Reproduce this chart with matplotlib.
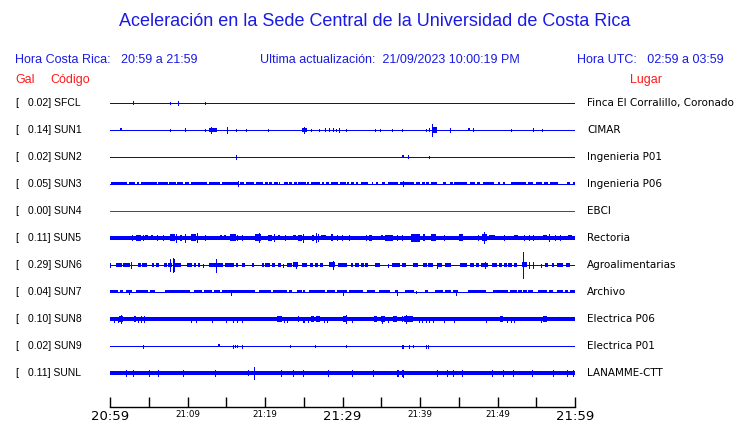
import matplotlib
matplotlib.use("Agg")
import matplotlib.pyplot as plt
from matplotlib.transforms import blended_transform_factory

W, H, DPI = 740, 423, 100

# ---------------- data ----------------
codes = ["SFCL", "SUN1", "SUN2", "SUN3", "SUN4", "SUN5", "SUN6", "SUN7", "SUN8", "SUN9", "SUNL"]
peaks = [0.02, 0.14, 0.02, 0.05, 0.00, 0.11, 0.29, 0.04, 0.10, 0.02, 0.11]
places = ["Finca El Corralillo, Coronado", "CIMAR", "Ingenieria P01", "Ingenieria P06", "EBCI",
          "Rectoria", "Agroalimentarias", "Archivo", "Electrica P06", "Electrica P01", "LANAMME-CTT"]
# quiet-level half amplitude of each trace (pixel-like units)
base_amp = [0.5, 0.5, 0.5, 0.5, 0.5, 2.0, 0.5, 0.5, 1.9, 0.5, 1.9]

t_start, t_end = 0, 60  # minutes after 20:59
tick_minutes = list(range(0, 61, 5))
tick_labels = ["20:59", "", "21:09", "", "21:19", "", "21:29", "", "21:39", "", "21:49", "", "21:59"]

# bursts: (start_min, end_min, half_amp)   spikes: (minute, half_amp)
sfcl_blocks = []
sfcl_spikes = [(3.0, 1.5), (7.8, 1), (8.8, 2), (12.3, 1)]

sun1_blocks = [(1.25, 1.55, 1.5), (12.8, 13.8, 2), (24.8, 25.4, 2), (41.7, 42.2, 3), (46.15, 46.45, 1.5)]
sun1_spikes = [(7.8, 1), (9.7, 1.5), (12.3, 1), (13.0, 3), (15.1, 3), (16.2, 1), (17.6, 1), (20.4, 1),
               (25.0, 3), (25.9, 1), (27.0, 1), (27.7, 1.5), (28.3, 1.5), (28.8, 1.5), (29.2, 1), (29.5, 2),
               (30.4, 1), (34.2, 1), (34.9, 1), (36.4, 1), (37.7, 1), (40.8, 1), (41.2, 1.5), (41.6, 6),
               (43.9, 2), (46.9, 1.5), (51.8, 1), (54.6, 1.5), (55.8, 1)]

sun2_blocks = [(37.7, 37.95, 1.5)]
sun2_spikes = [(16.3, 2), (38.5, 1.5), (41.1, 1)]

sun3_blocks = [(0.13, 0.86, 1.5), (0.95, 2.15, 1.5), (2.45, 3.23, 1.5), (3.44, 3.78, 1.5), (4.0, 6.02, 1.5),
               (6.24, 7.44, 1.5), (7.61, 8.52, 1.5), (8.69, 9.46, 1.5), (9.68, 10.19, 1.5), (10.45, 12.47, 1.5),
               (12.82, 14.19, 1.5), (14.41, 16.56, 1.5), (16.77, 17.33, 1.5), (17.51, 18.62, 1.5),
               (18.8, 19.78, 1.5), (20.0, 20.34, 1.5), (20.52, 20.86, 1.5), (21.16, 21.63, 1.5),
               (21.81, 21.94, 1.5), (22.45, 22.92, 1.5), (23.1, 23.53, 1.5), (23.78, 24.09, 1.5),
               (24.3, 25.25, 1.5), (25.42, 25.72, 1.5), (25.94, 27.1, 1.5), (27.31, 27.66, 1.5),
               (27.83, 28.26, 1.5), (28.52, 29.46, 1.5), (29.68, 30.45, 1.5), (30.62, 30.88, 1.5),
               (31.05, 31.48, 1.5), (31.74, 32.04, 1.5), (32.34, 33.33, 1.5), (33.76, 33.98, 1.5),
               (34.32, 34.62, 1.5), (35.05, 35.48, 1.5), (35.91, 37.2, 1.5), (37.42, 39.23, 1.5),
               (39.48, 40.0, 1.5), (40.22, 40.65, 1.5), (40.77, 41.2, 1.5), (41.38, 42.24, 1.5),
               (42.92, 43.35, 1.5), (43.87, 44.22, 1.5), (44.39, 46.11, 1.5), (46.45, 47.1, 1.5),
               (47.31, 47.74, 1.5), (48.09, 49.55, 1.5), (50.11, 50.32, 1.5), (50.75, 50.97, 1.5),
               (51.7, 53.68, 1.5), (53.98, 54.54, 1.5), (54.97, 55.7, 1.5), (56.0, 56.56, 1.5),
               (56.77, 57.85, 1.5), (58.92, 59.35, 1.5), (59.78, 60.0, 1.5)]
sun3_spikes = [(16.5, 2.5), (37.8, 2.5)]

sun4_blocks = []
sun4_spikes = []

sun5_blocks = [(3.31, 4.0, 3), (4.5, 4.95, 2.5), (5.25, 5.5, 2.5), (7.74, 8.39, 3.5), (9.03, 9.33, 3),
               (10.45, 11.05, 3.5), (14.19, 14.41, 2.5), (14.75, 15.01, 2.5), (15.48, 16.22, 3.5),
               (16.34, 16.47, 3), (18.71, 19.48, 3.5), (20.43, 20.86, 3), (21.72, 21.94, 2.5),
               (23.57, 23.96, 2.5), (24.22, 24.73, 3), (26.02, 26.37, 3), (27.23, 27.83, 2.5),
               (28.52, 28.73, 3.5), (33.46, 33.85, 3), (34.97, 35.27, 2.5), (35.53, 36.56, 3),
               (38.84, 40.0, 4), (40.34, 40.69, 3.5), (41.38, 42.06, 3.5), (44.99, 45.51, 3.5),
               (48.04, 48.6, 3.5), (48.95, 49.68, 2.5), (52.13, 52.69, 2.5), (55.91, 56.43, 2.5),
               (59.05, 59.66, 2.5)]
sun5_spikes = [(2.8, 2.5), (4.2, 2.5), (6.0, 2.5), (6.9, 2.5), (8.47, 4), (9.68, 4), (11.23, 4.5), (12.26, 2.5),
               (17.08, 2.5), (19.27, 4.5), (21.2, 3.5), (22.58, 2.5), (24.86, 4), (26.54, 4.5), (26.8, 3.5),
               (29.33, 2.5), (29.98, 2.5), (30.88, 2.5), (32.99, 2.5), (37.08, 2.5), (37.72, 2.5), (43.1, 2.5),
               (47.53, 2.5), (48.3, 5.5), (50.88, 2.5), (53.46, 2.5), (54.11, 2.5), (54.62, 2.5), (56.65, 3.5),
               (57.42, 2.5), (58.06, 2.5)]

sun6_blocks = [(0.77, 1.5, 1.7), (1.72, 2.58, 1.7), (3.57, 4.0, 1.7), (4.17, 4.73, 1.7), (5.38, 5.68, 1.7),
               (5.89, 6.32, 1.7), (7.01, 7.35, 1.7), (7.53, 7.96, 2), (8.39, 9.16, 2), (9.89, 10.62, 2),
               (10.8, 11.05, 1.7), (11.31, 11.61, 1.7), (12.77, 14.62, 2), (14.84, 15.96, 2),
               (16.22, 16.47, 1.7), (16.99, 17.42, 1.7), (18.28, 18.62, 1.7), (19.57, 19.83, 1.7),
               (20.0, 20.65, 1.7), (20.86, 21.29, 1.7), (21.72, 22.02, 1.7), (22.8, 23.44, 1.7),
               (23.66, 24.3, 2.5), (24.73, 25.38, 1.7), (25.81, 26.24, 1.7), (26.45, 26.88, 1.7),
               (27.1, 27.53, 1.7), (28.26, 29.03, 2.5), (29.46, 30.54, 1.7), (31.05, 31.4, 1.7),
               (31.61, 32.17, 2), (32.34, 32.77, 1.7), (32.9, 33.33, 1.7), (34.19, 34.84, 1.7),
               (36.45, 37.42, 1.7), (37.63, 38.19, 1.7), (39.14, 39.78, 1.7), (40.34, 40.95, 1.7),
               (41.08, 41.72, 1.7), (42.37, 42.8, 1.7), (43.27, 43.96, 1.7), (45.16, 46.11, 1.7),
               (46.45, 46.97, 1.7), (47.23, 47.66, 1.7), (47.87, 48.82, 2), (49.25, 49.98, 1.7),
               (50.24, 50.54, 1.7), (50.84, 51.18, 1.7), (51.4, 51.83, 1.7), (52.17, 52.56, 1.7),
               (53.12, 53.76, 2.5), (56.13, 56.56, 1.7), (56.99, 57.29, 1.7), (57.72, 58.41, 2),
               (58.84, 59.35, 1.7)]
sun6_spikes = [(0.0, 2), (2.71, 3), (7.78, 6), (8.09, 7), (8.26, 6), (12.04, 1.5), (13.72, 6.5),
               (22.37, 1.5), (23.96, 3), (28.77, 4), (35.91, 1.5), (42.15, 2.5), (48.39, 3),
               (53.33, 12.5), (54.02, 3), (54.62, 3), (55.61, 1.5)]

sun7_blocks = [(0.0, 1.08, 1.5), (1.29, 1.72, 1.5), (2.02, 2.88, 1.5), (3.31, 4.95, 1.5), (5.16, 5.81, 1.5),
               (7.1, 10.32, 1.5), (10.88, 11.83, 1.5), (12.17, 13.12, 1.5), (13.46, 14.19, 1.5),
               (14.41, 18.71, 1.5), (19.23, 20.77, 1.5), (21.08, 22.8, 1.5), (23.1, 23.44, 1.5),
               (24.09, 24.73, 1.5), (24.95, 25.16, 1.5), (25.68, 27.74, 1.5), (27.96, 29.03, 1.5),
               (29.25, 30.62, 1.5), (30.88, 32.69, 1.5), (33.12, 34.19, 1.5), (34.75, 36.13, 1.5),
               (36.77, 37.2, 1.5), (38.06, 39.23, 1.5), (40.65, 41.08, 1.5), (41.94, 43.01, 1.5),
               (43.23, 43.96, 1.5), (44.22, 44.95, 1.5), (46.24, 48.52, 1.5), (49.38, 51.4, 1.5),
               (51.61, 52.47, 1.5), (52.69, 53.12, 1.5), (53.33, 53.76, 1.5), (53.98, 54.62, 1.5),
               (55.27, 56.34, 1.5), (56.69, 57.2, 1.5), (57.63, 58.41, 1.5), (58.71, 59.14, 1.5),
               (59.35, 60.0, 1.5)]
sun7_spikes = [(2.4, 2), (15.61, 2.5), (30.1, 2.5), (37.08, 2.5), (39.48, 1), (44.6, 2.5)]

sun8_blocks = [(1.16, 1.72, 3), (3.14, 3.31, 3), (21.59, 22.15, 3), (24.22, 24.43, 2.5), (25.89, 26.32, 3),
               (26.54, 27.1, 3), (30.11, 30.54, 3), (34.11, 34.41, 3), (34.92, 35.48, 3), (36.56, 37.08, 3),
               (37.63, 37.76, 3), (37.98, 39.05, 3), (50.32, 50.67, 3), (55.91, 56.43, 3)]
sun8_spikes = [(0.56, 2.5), (0.99, 2.5), (1.38, 4), (3.66, 2.5), (3.96, 3), (4.43, 3), (10.45, 2.5),
               (11.1, 2.5), (13.2, 2.5), (14.97, 2.5), (15.91, 2.5), (16.43, 2.5), (17.08, 2.5), (22.49, 2.5),
               (22.84, 2.5), (24.86, 2.5), (25.08, 2.5), (25.51, 2.5), (27.66, 2.5), (27.96, 2.5), (30.41, 4.5),
               (31.18, 2.5), (35.14, 3.5), (35.91, 2.5), (38.15, 4.5), (39.87, 2.5), (40.26, 2.5), (40.77, 2.5),
               (41.12, 2.5), (41.63, 2.5), (43.14, 2.5), (44.43, 2.5), (48.52, 2.5), (51.18, 2.5), (51.7, 2.5),
               (52.13, 2.5), (55.61, 2.5)]

sun9_blocks = [(13.98, 14.15, 1.5)]
sun9_spikes = [(4.3, 1.5), (15.83, 1.5), (16.13, 1), (16.43, 1), (17.08, 1.5), (23.23, 1), (26.49, 1),
               (30.45, 1), (37.63, 1.5), (37.85, 1.5), (38.58, 1.5), (39.14, 1), (40.77, 1.5), (41.03, 1.5)]

sunl_blocks = [(17.76, 17.94, 3), (37.0, 37.25, 3.5)]
sunl_spikes = [(2.02, 2.5), (3.01, 2.5), (5.08, 2.5), (6.24, 3), (9.46, 2.5), (13.59, 2.5), (18.62, 5.5),
               (22.06, 2.5), (23.66, 3), (24.95, 3), (28.17, 2.5), (31.18, 2.5), (33.98, 2.5), (37.63, 3),
               (37.85, 3.5), (42.15, 2.5), (43.44, 2.5), (44.3, 2.5), (45.38, 2.5), (49.25, 2.5), (50.67, 2.5),
               (52.04, 2.5), (54.41, 2.5), (57.2, 2.5), (58.92, 2.5), (59.78, 2.5)]

# ---------------- figure ----------------
BLUE = "#0000ff"
TXT_BLUE = "#1a1ae6"
RED = "#ff1a1a"
trace_colors = [BLUE] * len(codes)
trace_colors[codes.index("SUN4")] = "#ff0000"

blocks_all = [sfcl_blocks, sun1_blocks, sun2_blocks, sun3_blocks, sun4_blocks, sun5_blocks,
              sun6_blocks, sun7_blocks, sun8_blocks, sun9_blocks, sunl_blocks]
spikes_all = [sfcl_spikes, sun1_spikes, sun2_spikes, sun3_spikes, sun4_spikes, sun5_spikes,
              sun6_spikes, sun7_spikes, sun8_spikes, sun9_spikes, sunl_spikes]

fig = plt.figure(figsize=(W / DPI, H / DPI), dpi=DPI)
fig.patch.set_facecolor("white")

ROW_PX = 27.0
ax_left, ax_right = 110, 575
ax_top, ax_bottom = 89.5, 407
ax = fig.add_axes([ax_left / W, 1 - ax_bottom / H, (ax_right - ax_left) / W, (ax_bottom - ax_top) / H])
ax.set_xlim(t_start, t_end)
ax.set_ylim((ax_bottom - 103) / ROW_PX, (ax_top - 103) / ROW_PX)
ax.set_facecolor("none")

s = 1.0 / ROW_PX
px_pt = 72.0 / DPI
for i, code in enumerate(codes):
    col = trace_colors[i]
    ax.plot([t_start, t_end], [i, i], color=col, lw=2 * base_amp[i] * px_pt,
            solid_capstyle="butt", antialiased=False)
    for (a0, a1, amp) in blocks_all[i]:
        ax.fill_between([a0, a1], [i - amp * s] * 2, [i + amp * s] * 2, color=col, lw=0,
                        antialiased=False)
    sp = spikes_all[i]
    if sp:
        ax.vlines([t for t, a in sp], [i - a * s for t, a in sp], [i + a * s for t, a in sp],
                  color=col, lw=px_pt, antialiased=False)

for side in ["left", "right", "top"]:
    ax.spines[side].set_visible(False)
ax.spines["bottom"].set_linewidth(1.0)
ax.set_yticks([])
ax.set_xticks(tick_minutes)
ax.set_xticklabels(tick_labels)
ax.tick_params(axis="x", direction="in", length=10 * px_pt, width=1.0, pad=2, colors="black")
for lbl, m in zip(ax.get_xticklabels(), tick_minutes):
    lbl.set_fontfamily("DejaVu Sans")
    lbl.set_fontsize(9.5 if m % 30 == 0 else 6.3)


def fx(x):
    return x / W


def fy(y):
    return 1 - y / H


fig.text(fx(375), fy(22), "Aceleración en la Sede Central de la Universidad de Costa Rica",
         ha="center", va="center", color=TXT_BLUE, fontsize=13, family="Liberation Sans")
fig.text(fx(15), fy(60), "Hora Costa Rica:   20:59 a 21:59", ha="left", va="center",
         color=TXT_BLUE, fontsize=9, family="Liberation Sans")
fig.text(fx(260), fy(60), "Ultima actualización:  21/09/2023 10:00:19 PM", ha="left", va="center",
         color=TXT_BLUE, fontsize=9, family="Liberation Sans")
fig.text(fx(724), fy(60), "Hora UTC:   02:59 a 03:59", ha="right", va="center",
         color=TXT_BLUE, fontsize=9, family="Liberation Sans")
fig.text(fx(15), fy(80), "Gal", ha="left", va="center", color=RED, fontsize=9, family="Liberation Sans")
fig.text(fx(50), fy(80), "Código", ha="left", va="center", color=RED, fontsize=9, family="Liberation Sans")
fig.text(fx(662), fy(80), "Lugar", ha="right", va="center", color=RED, fontsize=9, family="Liberation Sans")

tr = blended_transform_factory(fig.transFigure, ax.transData)
for i, code in enumerate(codes):
    fig.text(fx(15), i, "[", transform=tr, ha="left", va="center", fontsize=7.5,
             family="Liberation Sans", color="black")
    fig.text(fx(27.5), i, f"{peaks[i]:.2f}] {code}", transform=tr, ha="left", va="center",
             fontsize=7.5, family="Liberation Sans", color="black")
    fig.text(fx(587), i, places[i], transform=tr, ha="left", va="center", fontsize=7.5,
             family="DejaVu Sans", color="black")

fig.savefig("out.png", dpi=DPI, facecolor="white")
